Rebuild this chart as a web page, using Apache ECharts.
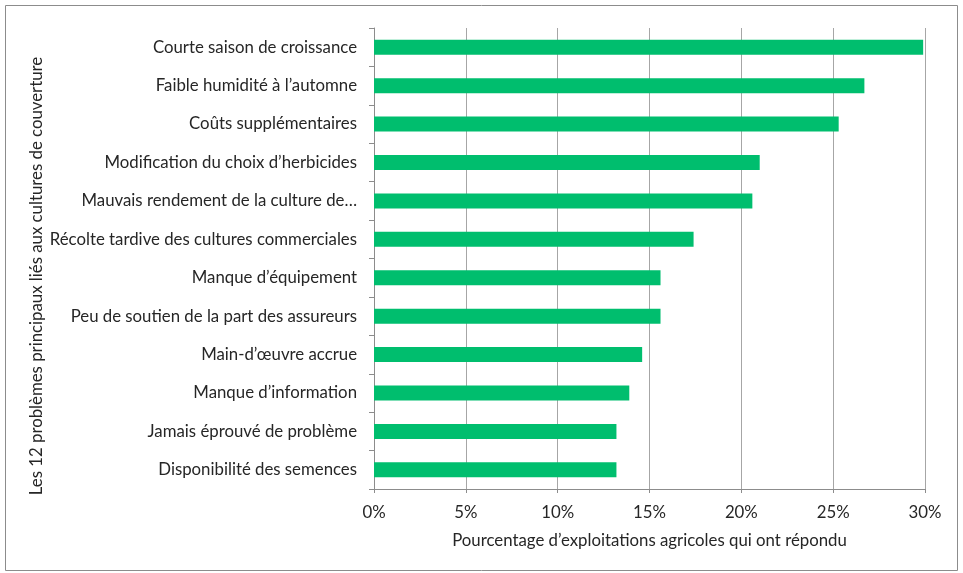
<!DOCTYPE html>
<html>
<head>
<meta charset="utf-8">
<script src="https://cdn.jsdelivr.net/npm/echarts@6/dist/echarts.min.js"></script>
<style>
html,body{margin:0;padding:0;background:#fff;}
#c{width:963px;height:573px;}
</style>
</head>
<body>
<div id="c"></div>
<script>
const categories = [
  "Courte saison de croissance",
  "Faible humidité à l’automne",
  "Coûts supplémentaires",
  "Modification du choix d’herbicides",
  "Mauvais rendement de la culture de…",
  "Récolte tardive des cultures commerciales",
  "Manque d’équipement",
  "Peu de soutien de la part des assureurs",
  "Main-d’œuvre accrue",
  "Manque d’information",
  "Jamais éprouvé de problème",
  "Disponibilité des semences"
];
const values = [29.9, 26.7, 25.3, 21.0, 20.6, 17.4, 15.6, 15.6, 14.6, 13.9, 13.2, 13.2];
const xTicks = [0, 5, 10, 15, 20, 25, 30];
const xTitle = "Pourcentage d’exploitations agricoles qui ont répondu";
const yTitle = "Les 12 problèmes principaux liés aux cultures de couverture";

const FONT = "Lato";
const FS = 16.8;
const TXT = '#262626';
const chart = echarts.init(document.getElementById('c'), null, {renderer: 'canvas'});
chart.setOption({
  animation: false,
  textStyle: {fontFamily: FONT},
  grid: {left: 374, right: 38, top: 28, bottom: 84, containLabel: false},
  graphic: [
    {type: 'rect', shape: {x: 5.5, y: 5.5, width: 952, height: 565},
     style: {fill: 'none', stroke: '#8c8c8c', lineWidth: 1}, silent: true},
    {type: 'text', x: 37, y: 276, rotation: Math.PI / 2,
     style: {text: yTitle, fontFamily: FONT, fontSize: FS, fill: TXT,
             align: 'center', verticalAlign: 'middle'}}
  ],
  xAxis: {
    type: 'value', min: xTicks[0], max: xTicks[xTicks.length - 1], interval: 5,
    name: xTitle, nameLocation: 'middle', nameGap: 43,
    nameTextStyle: {fontFamily: FONT, fontSize: FS, color: TXT},
    axisLine: {show: true, lineStyle: {color: '#8c8c8c', width: 1}},
    axisTick: {show: true, length: 4, lineStyle: {color: '#8c8c8c'}},
    axisLabel: {formatter: v => v + '%', fontSize: FS, color: TXT, margin: 15},
    splitLine: {show: true, lineStyle: {color: '#a6a6a6', width: 1}}
  },
  yAxis: {
    type: 'category', data: categories, inverse: true,
    axisLine: {show: true, lineStyle: {color: '#8c8c8c', width: 1}},
    axisTick: {show: true, length: 5, alignWithLabel: false, lineStyle: {color: '#8c8c8c'}},
    axisLabel: {fontSize: FS, color: TXT, margin: 17},
    splitLine: {show: false}
  },
  series: [{
    type: 'bar', data: values, barWidth: 15,
    itemStyle: {color: '#00BE6E'}
  }]
});
</script>
</body>
</html>
